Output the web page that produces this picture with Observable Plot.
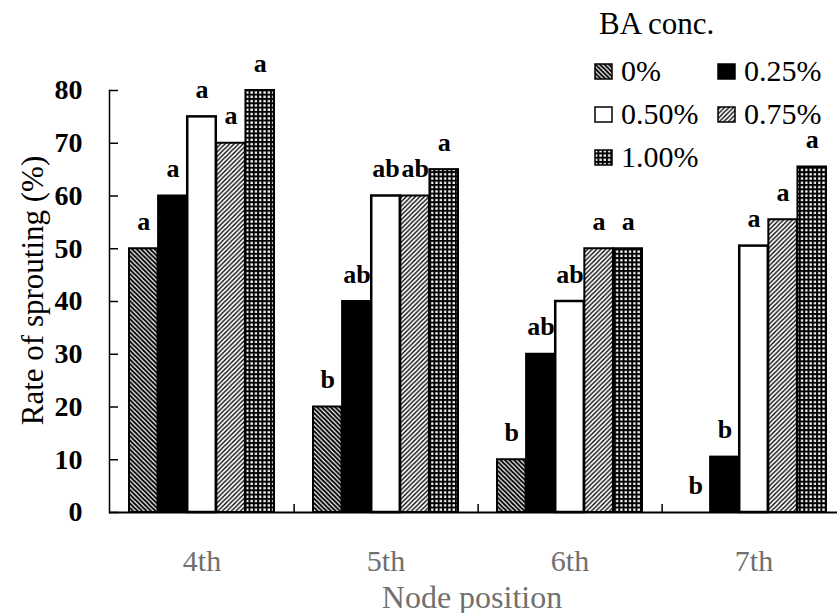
<!DOCTYPE html>
<html><head><meta charset="utf-8">
<script src="https://cdn.jsdelivr.net/npm/d3@7"></script>
<script src="https://cdn.jsdelivr.net/npm/@observablehq/plot@0.6"></script>
<style>
body{margin:0;background:#fff;}
#wrap{position:relative;width:837px;height:613px;overflow:hidden;}
#legend{position:absolute;left:0;top:0;font-family:"Liberation Serif","Times New Roman",serif;color:#000;}
#legend .title{position:absolute;left:599px;top:8px;font-size:31px;white-space:nowrap;line-height:1;}
#legend .item{position:absolute;display:flex;align-items:center;font-size:30px;white-space:nowrap;line-height:1;}
#legend .item svg{margin-right:8px;}
</style></head><body>
<svg width="0" height="0" style="position:absolute">
<defs>
<pattern id="pat0" patternUnits="userSpaceOnUse" width="4.5" height="4.5">
<rect width="4.5" height="4.5" fill="#fff"/>
<path d="M-1,-1L5.5,5.5M-1,3.5L1,5.5M3.5,-1L5.5,1" stroke="#000" stroke-width="2"/>
</pattern>
<pattern id="pat1" patternUnits="userSpaceOnUse" width="4" height="4">
<rect width="4" height="4" fill="#000"/>
</pattern>
<pattern id="pat2" patternUnits="userSpaceOnUse" width="4" height="4">
<rect width="4" height="4" fill="#fff"/>
</pattern>
<pattern id="pat3" patternUnits="userSpaceOnUse" width="4.5" height="4.5">
<rect width="4.5" height="4.5" fill="#fff"/>
<path d="M-1,5.5L5.5,-1M-1,1L1,-1M3.5,5.5L5.5,3.5" stroke="#000" stroke-width="1.3"/>
</pattern>
<pattern id="pat4" patternUnits="userSpaceOnUse" width="4.3" height="4.3">
<rect width="4.3" height="4.3" fill="#000"/>
<rect x="1.1" y="1.1" width="2.3" height="2.3" fill="#fff"/>
</pattern>
</defs>
</svg>
<div id="wrap"><div id="chart"></div><div id="legend"></div></div>
<script>
// ---- data ----
const nodes = ["4th", "5th", "6th", "7th"];
const concs = ["0%", "0.25%", "0.50%", "0.75%", "1.00%"];
const rate0   = [50, 20, 10, 0];
const rate025 = [60, 40, 30, 10.5];
const rate050 = [75, 60, 40, 50.5];
const rate075 = [70, 60, 50, 55.5];
const rate100 = [80, 65, 50, 65.5];
const letters0   = ["a", "b", "b", "b"];
const letters025 = ["a", "ab", "ab", "b"];
const letters050 = ["a", "ab", "ab", "a"];
const letters075 = ["a", "ab", "a", "a"];
const letters100 = ["a", "a", "a", "a"];
const yTicks = [0, 10, 20, 30, 40, 50, 60, 70, 80];
const legendTitle = "BA conc.";
const yTitle = "Rate of sprouting (%)";
const xTitle = "Node position";

const series = [rate0, rate025, rate050, rate075, rate100];
const letters = [letters0, letters025, letters050, letters075, letters100];
const patterns = concs.map((c, i) => `url(#pat${i})`);

const data = [];
concs.forEach((c, ci) => nodes.forEach((n, ni) =>
  data.push({node: n, conc: c, ci, value: series[ci][ni], letter: letters[ci][ni]})));

// ---- layout ----
const W = 837, H = 613, ML = 109, MR = -9, MT = 90, MB = 101;
const padIn = 0.21, padOut = 0.105;
const step = (W - ML - MR) / (nodes.length - padIn + 2 * padOut);
const bw = step * (1 - padIn);
const barW = bw / concs.length;
const frameW = W - ML - MR, frameH = H - MT - MB;

const barMarks = concs.map((c, ci) =>
  Plot.barY(data.filter(d => d.conc === c), {
    x: "node", y: "value", fill: "conc",
    stroke: "#000", strokeWidth: ci === 2 ? 2.5 : 2,
    insetLeft: ci * barW, insetRight: (concs.length - 1 - ci) * barW
  }));
const letterMarks = concs.map((c, ci) =>
  Plot.text(data.filter(d => d.conc === c), {
    x: "node", y: "value", text: "letter",
    dx: (ci - (concs.length - 1) / 2) * barW, dy: -19, lineAnchor: "bottom",
    fontSize: 26, fontWeight: "bold", fill: "#000"
  }));

const plot = Plot.plot({
  width: W, height: H,
  marginLeft: ML, marginRight: MR, marginTop: MT, marginBottom: MB,
  style: {fontFamily: '"Liberation Serif", "Times New Roman", serif', background: "#fff", color: "#000", overflow: "visible"},
  x: {domain: nodes, paddingInner: padIn, paddingOuter: padOut, label: null},
  y: {domain: [0, 80], label: null},
  color: {domain: concs, range: patterns},
  marks: [
    ...barMarks,
    ...letterMarks,
    Plot.ruleY([0], {stroke: "#000", strokeWidth: 2}),
    Plot.frame({anchor: "left", stroke: "#000", strokeWidth: 1.5}),
    Plot.tickY(yTicks, {y: d => d, insetRight: frameW - 9, stroke: "#000", strokeWidth: 1.5}),
    Plot.tickX(nodes.slice(0, -1), {x: d => d, dx: step / 2, insetTop: frameH - 8, stroke: "#000", strokeWidth: 1.5}),
    Plot.axisY({ticks: yTicks, tickSize: 0, tickPadding: 27, fontSize: 28, fontWeight: "bold", label: null}),
    Plot.axisX({tickSize: 0, tickPadding: 37, fontSize: 30, fill: "#707070", label: null}),
    Plot.text([yTitle], {frameAnchor: "left", rotate: -90, textAnchor: "middle", dx: -67, dy: -11, lineAnchor: "bottom", fontSize: 31, fill: "#000"}),
    Plot.text([xTitle], {frameAnchor: "bottom", textAnchor: "middle", dx: -6, dy: 95, lineAnchor: "bottom", fontSize: 32, fill: "#707070"})
  ]
});
document.getElementById("chart").appendChild(plot);

// ---- legend ----
const legend = d3.select("#legend");
legend.append("div").attr("class", "title").text(legendTitle);
concs.forEach((c, i) => {
  const col = i % 2, row = Math.floor(i / 2);
  const item = legend.append("div").attr("class", "item")
    .style("left", `${594 + col * 123}px`).style("top", `${56 + row * 43}px`);
  const sw = item.append("svg").attr("width", 19).attr("height", 17);
  sw.append("rect").attr("x", 1).attr("y", 1).attr("width", 17).attr("height", 15)
    .attr("fill", patterns[i]).attr("stroke", "#000").attr("stroke-width", 1.5);
  item.append("span").text(c);
});
</script>
</body></html>
